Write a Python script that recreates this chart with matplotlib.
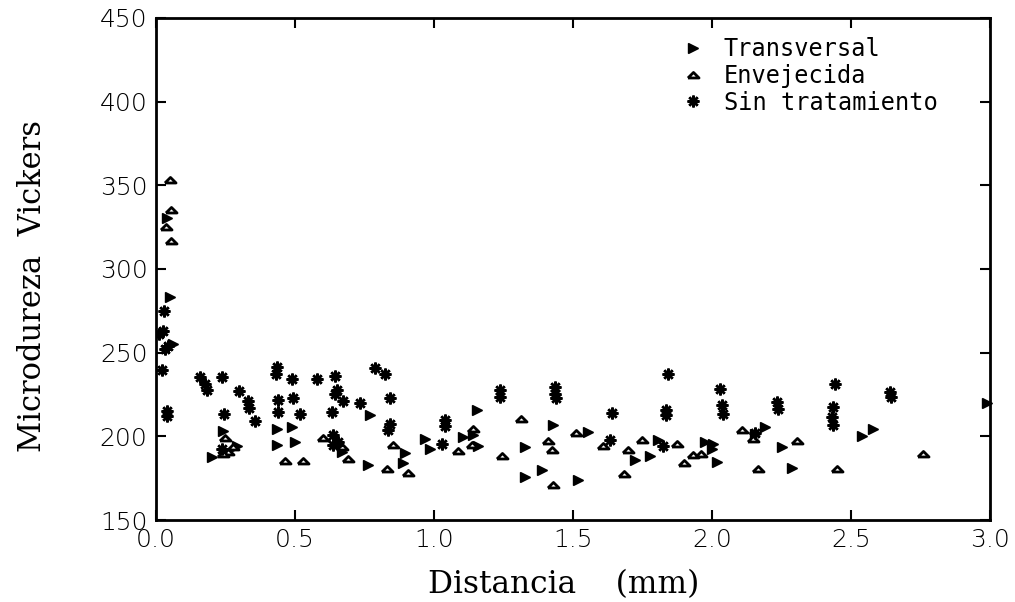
import numpy as np
from matplotlib import pyplot as plt

# Transversal (filled right-pointing triangles)
trans_x = [0.038, 0.050, 0.062, 0.240, 0.290, 0.200, 0.434, 0.488, 0.434, 0.500,
           0.770, 0.668, 0.764, 0.890, 0.896, 0.968, 0.986, 1.105, 1.154, 1.140,
           1.160, 1.327, 1.327, 1.387, 1.429, 1.519, 1.555, 1.723, 1.777, 1.807,
           1.975, 2.005, 1.999, 2.017, 2.155, 2.190, 2.251, 2.287, 2.538, 2.580,
           2.990]
trans_y = [330.5, 283.3, 255.2, 203.2, 194.0, 187.7, 204.6, 205.5, 194.6, 196.6,
           212.5, 190.7, 182.7, 183.8, 190.1, 198.6, 192.7, 199.6, 215.5, 200.6,
           194.0, 193.6, 175.8, 179.8, 206.5, 174.2, 202.6, 185.7, 188.1, 197.6,
           196.6, 195.7, 192.7, 184.7, 201.2, 205.5, 193.6, 180.8, 200.0, 204.6,
           219.8]

# Envejecida (open up triangles)
env_x = [0.050, 0.053, 0.036, 0.053, 0.248, 0.260, 0.242, 0.278, 0.602, 0.668,
         0.692, 0.464, 0.530, 0.832, 0.908, 0.854, 1.087, 1.140, 1.136, 1.312,
         1.243, 1.427, 1.411, 1.423, 1.511, 1.609, 1.697, 1.685, 1.747, 1.873,
         1.900, 1.930, 1.960, 2.107, 2.149, 2.167, 2.305, 2.449, 2.758]
env_y = [353.4, 335.0, 325.2, 316.7, 199.2, 190.7, 189.7, 193.6, 199.2, 193.6,
         186.7, 185.1, 185.1, 180.2, 178.2, 194.6, 191.2, 204.6, 194.6, 210.5,
         188.1, 170.8, 197.0, 191.7, 202.0, 194.0, 191.7, 177.2, 198.0, 195.7,
         184.1, 188.7, 189.3, 204.0, 198.2, 180.2, 197.2, 180.2, 189.3]

# Sin tratamiento (asterisks)
sin_x = [0.029, 0.010, 0.025, 0.044, 0.032, 0.020, 0.038, 0.040, 0.158, 0.176,
         0.182, 0.236, 0.299, 0.330, 0.336, 0.356, 0.245, 0.236, 0.434, 0.430,
         0.488, 0.578, 0.644, 0.650, 0.644, 0.674, 0.734, 0.788, 0.824, 0.842,
         0.438, 0.494, 0.440, 0.518, 0.632, 0.842, 0.836, 0.638, 0.656, 0.638,
         1.028, 1.040, 1.040, 1.237, 1.237, 1.435, 1.435, 1.439, 1.639, 1.633,
         1.843, 1.835, 1.835, 1.825, 2.029, 2.035, 2.041, 2.155, 2.233, 2.239,
         2.442, 2.436, 2.430, 2.434, 2.640, 2.645]
sin_y = [275.0, 261.0, 263.0, 254.0, 252.0, 239.7, 212.0, 215.0, 235.7, 231.4,
         227.4, 235.7, 227.0, 221.4, 217.0, 209.0, 213.5, 192.7, 241.3, 237.3,
         234.3, 234.3, 236.3, 227.4, 225.4, 221.0, 219.8, 240.9, 237.3, 223.0,
         221.8, 223.0, 214.5, 213.5, 214.5, 207.6, 203.6, 200.6, 196.6, 194.6,
         195.2, 206.0, 209.5, 227.4, 223.4, 229.3, 225.4, 223.0, 213.9, 198.0,
         237.3, 215.5, 212.5, 194.0, 228.4, 218.5, 213.1, 202.0, 220.4, 216.5,
         231.4, 217.4, 211.5, 206.5, 226.3, 223.5]

x_ticks = [0.0, 0.5, 1.0, 1.5, 2.0, 2.5, 3.0]
y_ticks = [150, 200, 250, 300, 350, 400, 450]

# flat open triangle like the old plotter symbol
flat_tri = [(-1.0, -0.45), (1.0, -0.45), (0.0, 0.55), (-1.0, -0.45)]

fig = plt.figure(figsize=(10.15, 6.02), dpi=100)
ax = fig.add_axes([0.1537, 0.1362, 0.8217, 0.8340])

ax.plot(trans_x, trans_y, linestyle='none', marker='>', markersize=6.5,
        color='black', label='Transversal', clip_on=False)
ax.plot(env_x, env_y, linestyle='none', marker=flat_tri, markersize=8,
        markerfacecolor='white', markeredgecolor='black', markeredgewidth=2,
        label='Envejecida')
ax.plot(sin_x, sin_y, linestyle='none', marker=(8, 2, 0), markersize=8.5,
        color='black', markeredgewidth=1.8, label='Sin tratamiento')

ax.set_xlim(0.0, 3.0)
ax.set_ylim(150, 450)
ax.set_xticks(x_ticks)
ax.set_yticks(y_ticks)
ax.set_xticklabels([f'{v:.1f}' for v in x_ticks])
ax.set_yticklabels([str(v) for v in y_ticks])

ax.tick_params(direction='in', length=7, width=1.5, top=True, right=True,
               labelsize=18, pad=6)
for lab in ax.get_xticklabels() + ax.get_yticklabels():
    lab.set_family('DejaVu Sans')
    lab.set_fontweight('light')
for sp in ax.spines.values():
    sp.set_linewidth(2)

ax.set_xlabel('Distancia    (mm)', family='DejaVu Serif', fontsize=22.5)
ax.set_ylabel('Microdureza  Vickers', family='DejaVu Serif', fontsize=22)
ax.xaxis.set_label_coords(0.489, -0.097)
ax.yaxis.set_label_coords(-0.129, 0.466)

leg = ax.legend(loc='upper left', bbox_to_anchor=(0.63, 0.962), frameon=False,
                handletextpad=0.8, labelspacing=0.12, borderaxespad=0,
                borderpad=0, handlelength=1.0,
                prop={'family': 'DejaVu Sans Mono', 'size': 17})

fig.savefig('out.png', dpi=100, facecolor='white')
